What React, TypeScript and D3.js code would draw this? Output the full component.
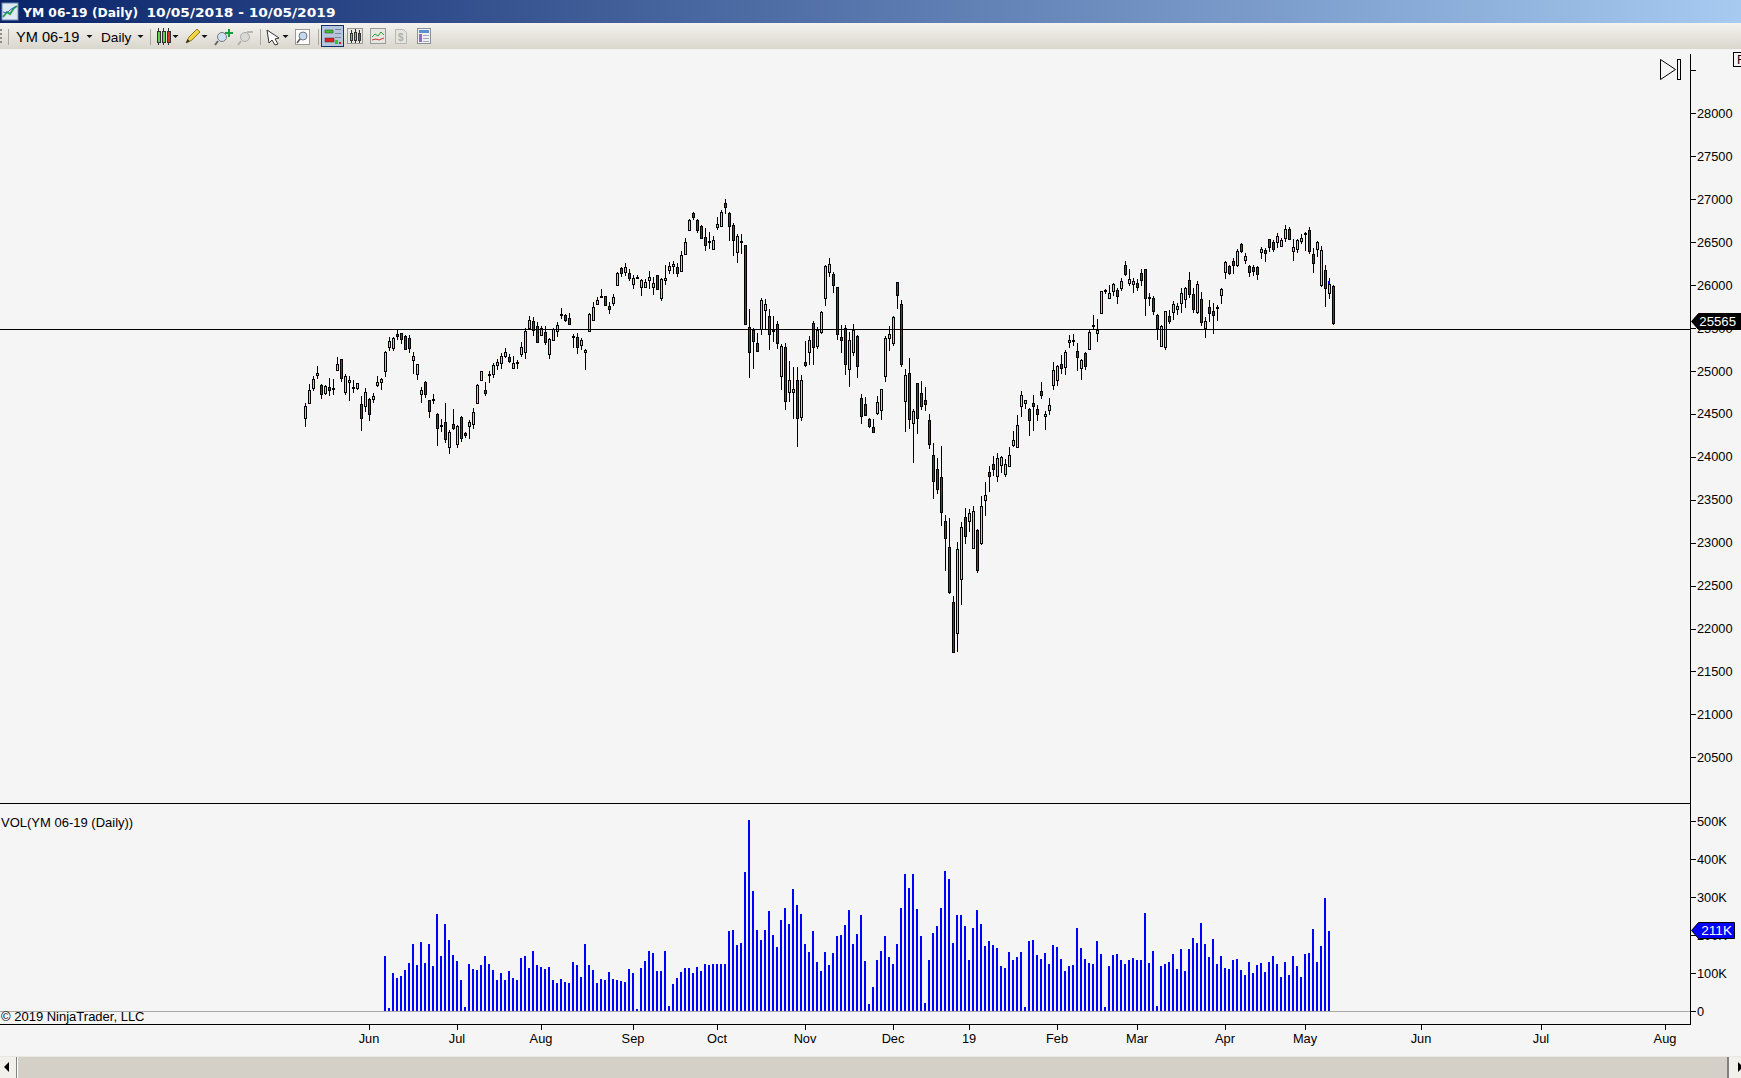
import React, { useRef, useEffect } from 'react';
import * as d3 from 'd3';

// daily bars, one row per ten sessions
const opens = [
  24455, 24626, 24805, 24952, 24832, 24742, 24808, 24785, 25010, 25135,
  24758, 24874, 24805, 24805, 24610, 24595, 24669, 24676, 24836, 24874,
  24995, 25282, 25270, 25426, 25437, 25402, 25379, 25123, 24968, 24735,
  24867, 24657, 24665, 24494, 24354, 24401, 24110, 24385, 24145, 24459,
  24280, 24362, 24378, 24630, 24894, 24773, 24948, 24968, 25072, 25096,
  25177, 25158, 25037, 25088, 25193, 25216, 25503, 25577, 25519, 25422,
  25449, 25193, 25356, 25461, 25647, 25647, 25612, 25391, 25391, 25305,
  25216, 25468, 25597, 25779, 25857, 25869, 25756, 25795, 26005, 26195,
  26156, 26137, 26016, 26086, 25973, 25981, 26063, 25981, 26113, 25853,
  26063, 26179, 26226, 26206, 26160, 26358, 26637, 26843, 26758, 26692,
  26564, 26498, 26424, 26680, 26684, 26952, 26843, 26696, 26381, 26501,
  26463, 25515, 25477, 25321, 25492, 25713, 25636, 25461, 25543, 24937,
  25275, 24758, 24758, 24890, 24459, 25100, 25224, 25554, 25294, 25457,
  25845, 26156, 26125, 25977, 25391, 25496, 25018, 25224, 25403, 24681,
  24611, 24436, 24343, 24514, 24541, 24937, 25379, 25329, 26031, 25775,
  24646, 24972, 24397, 24855, 24739, 24657, 24424, 24017, 23854, 23760,
  23248, 22945, 22305, 21951, 22572, 23295, 23256, 22941, 23143, 23000,
  23493, 23819, 23912, 23772, 23900, 23795, 23896, 24141, 24110, 24587,
  24630, 24552, 24630, 24552, 24762, 24471, 24541, 24840, 24890, 25076,
  25041, 25333, 25352, 25228, 25038, 25205, 25259, 25527, 25437, 25670,
  25934, 25845, 25927, 25938, 25969, 26233, 26028, 26016, 26020, 26140,
  26183, 25845, 25845, 25651, 25294, 25282, 25636, 25690, 25725, 25795,
  25841, 26055, 25892, 25682, 25834, 25504, 25740, 25694, 25729, 25888,
  26148, 26218, 26280, 26237, 26474, 26292, 26218, 26206, 26206, 26389,
  26404, 26532, 26505, 26501, 26459, 26544, 26649, 26400, 26424, 26517,
  26594, 26637, 26358, 26416, 26004, 26171, 25903, 25985,
];
const closes = [
  24587, 24773, 24905, 24972, 24735, 24820, 24781, 24797, 25080, 24921,
  24940, 24890, 24816, 24855, 24455, 24750, 24502, 24704, 24867, 24902,
  25216, 25344, 25379, 25402, 25375, 25259, 25270, 25170, 25076, 24773,
  24727, 24529, 24673, 24331, 24366, 24203, 24284, 24335, 24354, 24222,
  24257, 24401, 24517, 24832, 24995, 24746, 24960, 25069, 25100, 25170,
  25216, 25115, 25088, 25100, 25274, 25461, 25589, 25472, 25340, 25496,
  25340, 25367, 25484, 25530, 25659, 25589, 25546, 25406, 25274, 25356,
  25247, 25659, 25740, 25822, 25869, 25772, 25725, 25857, 26137, 26144,
  26206, 26078, 26078, 26094, 26055, 26032, 26090, 26020, 25958, 26067,
  26078, 26218, 26241, 26137, 26346, 26498, 26762, 26796, 26645, 26552,
  26463, 26509, 26529, 26707, 26847, 26913, 26692, 26529, 26575, 26509,
  25550, 25224, 25352, 25236, 25822, 25775, 25426, 25477, 25329, 25286,
  24654, 24890, 24786, 24456, 24890, 25073, 25356, 25282, 25477, 25682,
  26222, 26241, 26005, 25426, 25364, 25077, 25356, 25480, 25061, 24479,
  24487, 24362, 24293, 24634, 24786, 25379, 25426, 25628, 25880, 25084,
  24948, 24444, 24529, 24455, 24595, 24618, 24153, 23714, 23628, 23353,
  23050, 22429, 21730, 22922, 23178, 23073, 23341, 23364, 22685, 23423,
  23551, 23772, 23861, 23982, 23993, 23912, 24017, 24191, 24366, 24715,
  24657, 24424, 24587, 24494, 24723, 24502, 24599, 25007, 25053, 25038,
  25216, 25356, 25364, 25166, 25123, 25053, 25449, 25538, 25476, 25927,
  25938, 25911, 26008, 25868, 26047, 26129, 26067, 26047, 25977, 26063,
  25845, 25857, 25702, 25504, 25527, 25694, 25585, 25775, 25752, 25903,
  25962, 25900, 25721, 26008, 25574, 25577, 25678, 25655, 25740, 25950,
  26265, 26144, 26237, 26393, 26400, 26334, 26156, 26167, 26133, 26416,
  26377, 26447, 26424, 26567, 26521, 26649, 26540, 26439, 26521, 26544,
  26602, 26393, 26261, 26497, 26404, 25969, 26008, 25562,
];
const highs = [
  24622, 24847, 24940, 25057, 24843, 24839, 24913, 24902, 25158, 25138,
  24964, 24940, 24894, 24855, 24704, 24797, 24680, 24746, 24937, 24917,
  25235, 25391, 25399, 25484, 25445, 25418, 25418, 25220, 25080, 24808,
  24878, 24657, 24727, 24506, 24436, 24626, 24312, 24556, 24370, 24479,
  24284, 24424, 24568, 24851, 24999, 24867, 24995, 25088, 25138, 25204,
  25263, 25197, 25173, 25123, 25336, 25496, 25639, 25624, 25565, 25523,
  25523, 25387, 25496, 25565, 25728, 25663, 25670, 25430, 25437, 25387,
  25255, 25678, 25802, 25857, 25954, 25873, 25799, 25896, 26148, 26206,
  26253, 26187, 26117, 26117, 26067, 26067, 26164, 26098, 26117, 26078,
  26234, 26268, 26280, 26261, 26393, 26544, 26765, 26847, 26769, 26696,
  26668, 26618, 26567, 26789, 26874, 27002, 26847, 26719, 26591, 26595,
  26470, 25721, 25496, 25438, 25845, 25838, 25717, 25640, 25585, 25317,
  25321, 25112, 25042, 25046, 24953, 25345, 25407, 25577, 25508, 25698,
  26230, 26311, 26148, 25981, 25535, 25535, 25457, 25543, 25418, 24727,
  24696, 24452, 24440, 24708, 24789, 25407, 25523, 25640, 26039, 25822,
  25022, 25146, 24552, 24859, 24878, 24812, 24498, 24160, 23986, 24125,
  23318, 23287, 22378, 23007, 23236, 23403, 23392, 23427, 23155, 23539,
  23706, 23892, 24009, 24044, 24005, 23970, 24114, 24300, 24486, 24766,
  24661, 24564, 24719, 24603, 24871, 24533, 24684, 25100, 25065, 25185,
  25243, 25418, 25426, 25321, 25139, 25216, 25472, 25647, 25600, 25934,
  25954, 26000, 26020, 25961, 26078, 26280, 26187, 26078, 26067, 26183,
  26191, 25904, 25872, 25659, 25535, 25698, 25709, 25810, 25787, 25962,
  25973, 26152, 25962, 26047, 25915, 25632, 25826, 25787, 25768, 25962,
  26284, 26233, 26319, 26416, 26494, 26369, 26233, 26233, 26226, 26439,
  26428, 26540, 26521, 26602, 26552, 26699, 26672, 26536, 26532, 26594,
  26614, 26672, 26431, 26517, 26451, 26230, 26078, 25997,
];
const lows = [
  24350, 24614, 24766, 24905, 24673, 24715, 24707, 24719, 24999, 24874,
  24719, 24649, 24739, 24781, 24304, 24525, 24420, 24626, 24816, 24777,
  24933, 25235, 25235, 25360, 25317, 25255, 25212, 24968, 24894, 24630,
  24688, 24455, 24618, 24129, 24284, 24164, 24036, 24312, 24106, 24172,
  24218, 24211, 24327, 24618, 24886, 24711, 24859, 24917, 25010, 25022,
  25146, 25092, 25022, 25022, 25166, 25138, 25496, 25410, 25321, 25410,
  25301, 25142, 25348, 25399, 25604, 25573, 25534, 25267, 25201, 25243,
  25014, 25457, 25585, 25767, 25853, 25768, 25667, 25760, 25993, 26094,
  26109, 26047, 25958, 26071, 25876, 25962, 25958, 25884, 25950, 25818,
  26001, 26129, 26129, 26098, 26152, 26350, 26633, 26754, 26610, 26540,
  26400, 26420, 26420, 26645, 26672, 26824, 26517, 26342, 26261, 26362,
  25539, 24921, 25022, 25228, 25422, 25488, 25248, 25341, 25255, 24778,
  24549, 24638, 24444, 24118, 24421, 25050, 25073, 25069, 25259, 25430,
  25760, 26094, 25911, 25364, 25213, 24956, 24817, 25178, 24921, 24386,
  24475, 24339, 24277, 24487, 24432, 24875, 25236, 25294, 25717, 25049,
  24292, 24327, 23931, 24269, 24545, 24537, 24094, 23512, 23570, 23197,
  22673, 22406, 21722, 21730, 22277, 22988, 23128, 22930, 22650, 22968,
  23314, 23593, 23780, 23710, 23807, 23768, 23885, 24118, 24106, 24467,
  24560, 24246, 24304, 24420, 24673, 24316, 24490, 24781, 24828, 24964,
  24952, 25267, 25294, 25003, 24898, 25014, 25251, 25484, 25340, 25659,
  25892, 25841, 25872, 25783, 25935, 26105, 25989, 25911, 25931, 25993,
  25640, 25756, 25651, 25360, 25282, 25244, 25546, 25593, 25647, 25678,
  25729, 25845, 25678, 25659, 25523, 25387, 25574, 25434, 25581, 25779,
  26070, 26117, 26129, 26210, 26373, 26249, 26094, 26109, 26059, 26303,
  26265, 26385, 26381, 26431, 26447, 26501, 26525, 26280, 26377, 26474,
  26400, 26365, 26140, 26331, 25977, 25748, 25837, 25539,
];

// volume in thousands, starts at session 20
const volumeStart = 20;
const volumes = [
  145, 8, 100, 87, 92, 108, 127, 177, 121, 182,
  127, 177, 119, 256, 145, 229, 187, 148, 132, 82,
  11, 124, 111, 108, 121, 145, 124, 108, 82, 100,
  82, 105, 87, 82, 140, 145, 113, 158, 121, 116,
  111, 116, 82, 74, 84, 76, 74, 129, 121, 90,
  177, 121, 108, 74, 84, 82, 103, 84, 82, 79,
  76, 111, 100, 5, 113, 132, 158, 153, 105, 105,
  158, 13, 71, 87, 103, 113, 113, 100, 116, 105,
  124, 121, 124, 124, 124, 124, 211, 214, 174, 179,
  367, 504, 316, 214, 187, 214, 264, 200, 169, 240,
  272, 229, 322, 280, 256, 177, 156, 211, 129, 105,
  156, 121, 153, 198, 200, 227, 266, 177, 203, 253,
  132, 18, 63, 134, 158, 198, 142, 124, 177, 272,
  361, 324, 361, 269, 198, 21, 134, 206, 224, 272,
  369, 348, 179, 253, 253, 224, 134, 219, 266, 229,
  171, 185, 174, 166, 119, 113, 156, 134, 142, 156,
  11, 185, 187, 148, 137, 153, 124, 174, 169, 137,
  105, 119, 121, 219, 166, 137, 127, 124, 185, 150,
  11, 119, 148, 150, 134, 124, 134, 140, 134, 134,
  258, 127, 158, 13, 119, 124, 129, 150, 111, 163,
  105, 163, 193, 179, 232, 177, 142, 190, 124, 145,
  113, 111, 134, 137, 108, 95, 129, 100, 121, 127,
  103, 129, 145, 124, 90, 129, 95, 145, 119, 90,
  150, 153, 216, 129, 171, 298, 211,
];

const priceTicks = [20500, 21000, 21500, 22000, 22500, 23000, 23500, 24000, 24500, 25000, 25500, 26000, 26500, 27000, 27500, 28000, 28500];
const volumeTicks = [0, 100, 200, 300, 400, 500];
const monthLabels = ['Jun', 'Jul', 'Aug', 'Sep', 'Oct', 'Nov', 'Dec', '19', 'Feb', 'Mar', 'Apr', 'May', 'Jun', 'Jul', 'Aug'];
const monthSessions = [16, 38, 59, 82, 103, 125, 147, 166, 188, 208, 230, 250, 279, 309, 340];

const levelLine = 25490;
const lastPrice = 25565;
const lastVolume = 211;
const markerSession = 256;
const markerPrice = 26045;

const FONT = '"Liberation Sans", Arial, sans-serif';

const Candle = ({ x, y, w, h, up }) => (
  <g shapeRendering="crispEdges">
    <line x1={x + w / 2} x2={x + w / 2} y1={y - 3} y2={y + h + 3} stroke="#333" />
    <rect x={x} y={y} width={w} height={h} fill={up ? '#5fd04a' : '#e03020'} stroke="#333" />
  </g>
);

const Toolbar = () => (
  <g>
    <rect x="0" y="23" width="1741" height="26" fill="url(#toolGrad)" />
    <rect x="0" y="23" width="1741" height="1" fill="#f4f2ec" />
    <g fill="#8c8c84">
      <rect x="0" y="29" width="2" height="2" />
      <rect x="0" y="33" width="2" height="2" />
      <rect x="0" y="37" width="2" height="2" />
      <rect x="0" y="41" width="2" height="2" />
    </g>
    {[8, 150, 260, 318].map(x => (
      <rect key={x} x={x} y="29" width="1" height="16" fill="#aaa9a0" />
    ))}
    <text x="16" y="41.5" fontFamily={FONT} fontSize="14.6">YM 06-19</text>
    <text x="101" y="41.5" fontFamily={FONT} fontSize="13.6">Daily</text>
    {[89, 140, 175, 204, 285].map(x => (
      <path key={x} d={`M${x - 2.5} 35h6l-3 3z`} fill="#111" />
    ))}
    <Candle x={157} y={31} w={3} h={11} up />
    <Candle x={162} y={31} w={3} h={11} up />
    <Candle x={167} y={31} w={3} h={11} up={false} />
    {/* pencil */}
    <path d="M186 43l3-6 8-8 3 3-8 8z" fill="#f5d342" stroke="#8a7a20" />
    <path d="M186 43l1.5-4 2.5 2.5z" fill="#333" />
    {/* zoom in */}
    <circle cx="222" cy="37" r="4.5" fill="#cfe0f2" stroke="#777" />
    <line x1="218" y1="41" x2="215" y2="45" stroke="#666" strokeWidth="2" />
    <path d="M225 32h3v-3h2v3h3v2h-3v3h-2v-3h-3z" fill="#14a03c" />
    {/* zoom out, disabled */}
    <circle cx="245" cy="37" r="4.5" fill="#d8d8d4" stroke="#aaa" />
    <line x1="241" y1="41" x2="238" y2="45" stroke="#b0b0aa" strokeWidth="2" />
    <rect x="247" y="31" width="6" height="2" fill="#b8b8b2" />
    {/* pointer */}
    <path d="M267 30l0 0 12 8-4 1 3 5-3 1-3-5-3 3z" fill="#fff" stroke="#333" />
    {/* zoom box */}
    <rect x="295.5" y="29.5" width="14" height="15" fill="#fff" stroke="#999" />
    <circle cx="303" cy="36" r="4" fill="#c4d8f0" stroke="#777" />
    <line x1="300" y1="39" x2="297" y2="43" stroke="#555" strokeWidth="1.5" />
    {/* selected bars button */}
    <rect x="321.5" y="25.5" width="22" height="21" fill="#b6c6dc" stroke="#15306a" />
    <rect x="325" y="30" width="8" height="3" fill="#3cc02a" stroke="#333" strokeWidth="0.5" />
    <rect x="325" y="38" width="9" height="4" fill="#e02020" stroke="#333" strokeWidth="0.5" />
    <rect x="335" y="40" width="3" height="4" fill="#3cc02a" />
    <rect x="339" y="42" width="2" height="2" fill="#e02020" />
    <g fill="#7c8898">
      <rect x="335" y="29" width="6" height="1" />
      <rect x="335" y="33" width="6" height="1" />
      <rect x="335" y="37" width="6" height="1" />
    </g>
    {/* chart style */}
    <rect x="347.5" y="28.5" width="15" height="15" fill="#e6e6e2" stroke="#999" />
    <Candle x={350} y={33} w={2} h={7} up />
    <Candle x={354} y={32} w={2} h={8} up />
    <Candle x={358} y={33} w={2} h={7} up={false} />
    {/* indicators */}
    <rect x="370.5" y="28.5" width="15" height="15" fill="#e6e6e2" stroke="#999" />
    <path d="M372 37l3-3 3 2 3-4 3 3" fill="none" stroke="#2aa02a" />
    <path d="M372 40l4-1 3 1 5-2" fill="none" stroke="#d03030" />
    {/* disabled dollar */}
    <path d="M395.5 29.5h8l3 3v11h-11z" fill="#e4e4e0" stroke="#b8b8b4" />
    <text x="398" y="41" fontFamily={FONT} fontSize="10" fontWeight="bold" fill="#b0b0aa">$</text>
    {/* properties */}
    <rect x="417.5" y="28.5" width="13" height="15" fill="#eef0f6" stroke="#8a8f9c" />
    <rect x="419" y="30" width="10" height="3" fill="#5d8fd0" />
    <rect x="419" y="34" width="3" height="8" fill="#9066d0" />
    <g fill="#a0a8b8">
      <rect x="423" y="35" width="6" height="1" />
      <rect x="423" y="38" width="6" height="1" />
      <rect x="423" y="41" width="6" height="1" />
    </g>
  </g>
);

const ChartFrame = () => (
  <g>
    <rect x="0" y="0" width="1741" height="23" fill="url(#titleGrad)" />
    <rect x="2" y="3" width="16" height="17" fill="#dfe9f6" stroke="#6f8cb0" />
    <path d="M3 17l4-5 3 2 4-6 3-2" fill="none" stroke="#2aa050" strokeWidth="2" />
    <path d="M3 12l4 1 4-4 5-2" fill="none" stroke="#2c6cc8" />
    <text x="23" y="16.5" fill="#fff" fontFamily={'"DejaVu Sans", sans-serif'} fontWeight="bold" fontSize="13"
      textLength="115" lengthAdjust="spacingAndGlyphs">
      YM 06-19 (Daily)
    </text>
    <text x="146.5" y="16.5" fill="#fff" fontFamily={'"DejaVu Sans", sans-serif'} fontWeight="bold" fontSize="13"
      textLength="189" lengthAdjust="spacingAndGlyphs">
      10/05/2018 - 10/05/2019
    </text>
    <Toolbar />
    {/* jump to last bar */}
    <path d="M1660.5 59.5L1675.5 69.5L1660.5 79.5Z" fill="none" stroke="#000" />
    <rect x="1677.5" y="59.5" width="3" height="20" fill="none" stroke="#000" />
    <rect x="1733.5" y="52.5" width="12" height="14" fill="#f5f5f5" stroke="#000" />
    <text x="1737" y="64" fontFamily={FONT} fontSize="12.5" fill="#000">F</text>
    {/* scroll bar */}
    <rect x="0" y="1056" width="1741" height="22" fill="#d4d0c8" />
    <rect x="0" y="1056" width="1741" height="1" fill="#e9e7e1" />
    <rect x="0" y="1057" width="16" height="21" fill="#f1f0eb" />
    <rect x="16" y="1057" width="1" height="21" fill="#808080" />
    <rect x="17" y="1057" width="1" height="21" fill="#fff" />
    <path d="M9 1062v10l-5-5z" fill="#000" />
    <rect x="1727" y="1057" width="2" height="21" fill="#808080" />
    <rect x="1729" y="1057" width="12" height="21" fill="#f1f0eb" />
    <path d="M1738 1062v10l5-5z" fill="#000" />
  </g>
);

const App = () => {
  const plotRef = useRef(null);

  useEffect(() => {
    document.body.style.margin = '0';
    const g = d3.select(plotRef.current);
    g.selectAll('*').remove();

    const x = d3.scaleLinear().domain([0, 257]).range([305, 1333]);
    const y = d3.scaleLinear().domain([28000, 20500]).range([113.3, 757.3]);
    const yVol = d3.scaleLinear().domain([0, 500]).range([1011, 821.4]);

    const bars = opens.map((o, i) => ({ i, o, c: closes[i], h: highs[i], l: lows[i] }));
    const px = v => Math.round(v);

    // frame
    g.append('rect').attr('x', 0).attr('y', 1011).attr('width', 1690).attr('height', 1).attr('fill', '#aaaaaa');

    // volume
    g.append('g').attr('fill', '#0000ff').selectAll('rect')
      .data(volumes)
      .enter().append('rect')
      .attr('x', (d, i) => x(i + volumeStart) - 1)
      .attr('width', 2)
      .attr('y', d => px(yVol(d)))
      .attr('height', d => 1011 - px(yVol(d)));

    // candles
    const candles = g.append('g').selectAll('g').data(bars).enter().append('g');
    candles.append('rect')
      .attr('x', d => x(d.i))
      .attr('width', 1)
      .attr('y', d => px(y(d.h)))
      .attr('height', d => Math.max(1, px(y(d.l)) - px(y(d.h))))
      .attr('fill', '#000');
    candles.append('rect')
      .attr('x', d => x(d.i) - 0.5)
      .attr('width', 2)
      .attr('y', d => px(y(Math.max(d.o, d.c))) + 0.5)
      .attr('height', d => Math.max(1, px(y(Math.min(d.o, d.c))) - px(y(Math.max(d.o, d.c)))))
      .attr('fill', d => (d.c >= d.o ? '#90ee90' : '#cc0f0f'))
      .attr('stroke', '#000')
      .attr('stroke-width', 1);

    g.append('rect')
      .attr('x', x(markerSession) - 1)
      .attr('y', px(y(markerPrice)))
      .attr('width', 2)
      .attr('height', 3)
      .attr('fill', '#0000ff');

    // level line
    g.append('rect').attr('x', 0).attr('y', px(y(levelLine))).attr('width', 1690).attr('height', 1).attr('fill', '#000');

    // panel lines
    g.append('rect').attr('x', 0).attr('y', 803).attr('width', 1691).attr('height', 1).attr('fill', '#000');
    g.append('rect').attr('x', 0).attr('y', 1024).attr('width', 1691).attr('height', 1).attr('fill', '#000');
    g.append('rect').attr('x', 1690).attr('y', 54).attr('width', 1).attr('height', 970).attr('fill', '#000');

    // axes
    const styleAxis = sel => {
      sel.select('.domain').remove();
      sel.selectAll('line').attr('stroke', '#000').attr('shape-rendering', 'crispEdges');
      sel.selectAll('text').attr('fill', '#000').attr('font-family', FONT).attr('font-size', 12.8);
    };
    g.append('g').attr('transform', 'translate(1690,0)')
      .call(d3.axisRight(y).tickValues(priceTicks).tickSize(6).tickPadding(1).tickFormat(d => (d === 28500 ? '' : String(d))))
      .call(styleAxis);
    g.append('g').attr('transform', 'translate(1690,0)')
      .call(d3.axisRight(yVol).tickValues(volumeTicks).tickSize(6).tickPadding(1).tickFormat(d => (d === 0 ? '0' : `${d}K`)))
      .call(styleAxis);
    g.append('g').attr('transform', 'translate(-0.5,1024)')
      .call(d3.axisBottom(x).tickValues(monthSessions).tickSize(6).tickPadding(4).tickFormat((d, i) => monthLabels[i]))
      .call(styleAxis);

    // last value tags
    const tag = (yy, w, fill, label, textRight, fontSize) => {
      g.append('path')
        .attr('d', `M1691.5 ${yy}L1698.5 ${yy - 8}H${1691.5 + w}V${yy + 8}H1698.5Z`)
        .attr('fill', fill)
        .attr('stroke', '#000');
      g.append('text')
        .attr('x', textRight)
        .attr('y', yy + 4.8)
        .attr('text-anchor', 'end')
        .attr('fill', '#fff')
        .attr('font-family', FONT)
        .attr('font-size', fontSize)
        .text(label);
    };
    tag(px(y(lastPrice)) - 0.5, 52, '#000', String(lastPrice), 1736, 13.2);
    tag(px(yVol(lastVolume)) - 0.5, 43, '#0000ff', `${lastVolume}K`, 1732, 13.6);

    // labels
    g.append('text').attr('x', 1).attr('y', 827).attr('font-family', FONT).attr('font-size', 13).text('VOL(YM 06-19 (Daily))');
    g.append('text').attr('x', 1).attr('y', 1021).attr('font-family', FONT).attr('font-size', 13).text('\u00a9 2019 NinjaTrader, LLC');
  }, []);

  return (
    <svg width="1741" height="1078" style={{ position: 'absolute', left: 0, top: 0, display: 'block', background: '#f5f5f5' }}>
      <defs>
        <linearGradient id="titleGrad" x1="0" x2="1" y1="0" y2="0">
          <stop offset="0" stopColor="#0a246a" />
          <stop offset="1" stopColor="#a6caf0" />
        </linearGradient>
        <linearGradient id="toolGrad" x1="0" x2="0" y1="0" y2="1">
          <stop offset="0" stopColor="#f4f3ee" />
          <stop offset="1" stopColor="#d9d6cd" />
        </linearGradient>
      </defs>
      <ChartFrame />
      <g ref={plotRef} />
    </svg>
  );
};

export default App;
